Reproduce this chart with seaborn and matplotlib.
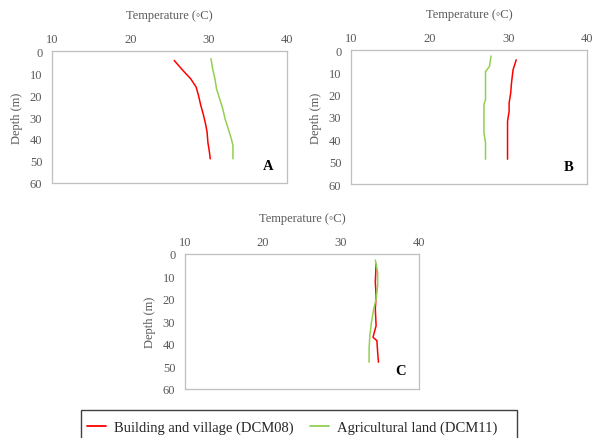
import matplotlib
matplotlib.use("Agg")
import matplotlib.pyplot as plt
from matplotlib.lines import Line2D
from matplotlib.patches import Rectangle
import pandas as pd
import seaborn as sns

# Temperature profiles (°C) against depth (m) for three boreholes
a_build_depth = [4.3, 8.8, 12.6, 16.4, 20.2, 24.8, 28.6, 33.1, 36.9, 41.5, 46.0, 49.0]
a_build_temp = [25.6, 26.7, 27.7, 28.4, 28.7, 29.0, 29.3, 29.6, 29.8, 29.9, 30.1, 30.2]
a_agri_depth = [3.5, 8.0, 12.6, 17.2, 21.7, 26.3, 30.9, 35.4, 40.0, 43.0, 49.0]
a_agri_temp = [30.3, 30.5, 30.8, 31.0, 31.4, 31.8, 32.1, 32.5, 32.9, 33.1, 33.1]

b_build_depth = [4.4, 8.9, 14.8, 19.3, 23.7, 27.4, 31.9, 40.0, 48.9]
b_build_temp = [31.0, 30.6, 30.4, 30.3, 30.1, 30.1, 29.9, 29.9, 29.9]
b_agri_depth = [2.7, 7.4, 9.6, 16.3, 22.2, 24.4, 31.1, 37.0, 41.5, 48.9]
b_agri_temp = [27.8, 27.6, 27.1, 27.1, 27.1, 26.9, 26.9, 26.9, 27.1, 27.1]

c_build_depth = [4.4, 12.6, 18.5, 24.4, 31.9, 37.0, 38.5, 43.7, 48.1]
c_build_temp = [34.5, 34.4, 34.5, 34.4, 34.5, 34.1, 34.6, 34.7, 34.8]
c_agri_depth = [2.7, 8.1, 14.1, 20.0, 24.4, 30.4, 36.3, 42.2, 48.1]
c_agri_temp = [34.4, 34.7, 34.7, 34.5, 34.2, 33.9, 33.7, 33.6, 33.6]

series_names = ["Building and village (DCM08)", "Agricultural land (DCM11)"]
series_colors = ["#FF0000", "#92D050"]
panel_letters = ["A", "B", "C"]
x_ticks = [10, 20, 30, 40]
y_ticks = [0, 10, 20, 30, 40, 50, 60]

sns.set_theme(style="white")
plt.rcParams["font.family"] = ["Liberation Serif", "DejaVu Serif"]

panels = [
    (a_build_depth, a_build_temp, a_agri_depth, a_agri_temp),
    (b_build_depth, b_build_temp, b_agri_depth, b_agri_temp),
    (c_build_depth, c_build_temp, c_agri_depth, c_agri_temp),
]

W, H = 593, 439
fig = plt.figure(figsize=(W / 100, H / 100), dpi=100)

# axes boxes in pixels: left, top, right, bottom
boxes = [(52, 52, 287, 184), (351, 51, 587, 185), (185, 255, 419, 390)]

grey = "#595959"
fs = 9.0

for (bd, bt, ad, at), (l, t, r, b), letter in zip(panels, boxes, panel_letters):
    ax = fig.add_axes([l / W, 1 - b / H, (r - l) / W, (b - t) / H])
    df = pd.concat([
        pd.DataFrame({"Depth": bd, "Temp": bt, "Site": series_names[0]}),
        pd.DataFrame({"Depth": ad, "Temp": at, "Site": series_names[1]}),
    ])
    sns.lineplot(data=df, x="Temp", y="Depth", hue="Site", hue_order=series_names,
                 palette=series_colors, sort=False, estimator=None, units="Site",
                 linewidth=1.1, legend=False, ax=ax)
    ax.set_xlim(10, 40)
    ax.set_ylim(60, 0)
    ax.set_xticks(x_ticks)
    ax.set_yticks(y_ticks)
    ax.xaxis.tick_top()
    ax.xaxis.set_label_position("top")
    ax.set_xlabel("Temperature (\u25e6C)", fontsize=fs, color=grey, labelpad=11)
    ax.set_ylabel("Depth (m)", fontsize=fs, color=grey, labelpad=5)
    ax.tick_params(axis="x", length=0, pad=4, labelsize=fs, labelcolor=grey)
    ax.tick_params(axis="y", length=0, pad=7, labelsize=fs, labelcolor=grey)
    for s in ax.spines.values():
        s.set_color("#BFBFBF")
        s.set_linewidth(0.9)
    ax.text(37.6, 52.0, letter, fontsize=10.5, fontweight="bold", ha="center", va="center",
            color="black")

# legend box along the bottom edge
fig.patches.append(Rectangle((81 / W, 1 - 445 / H), 436 / W, 34 / H,
                             transform=fig.transFigure, fill=False,
                             edgecolor="#404040", linewidth=1.0))
handles = [Line2D([], [], color=c, lw=1.3) for c in series_colors]
fig.legend(handles, series_names, loc="upper left",
           bbox_to_anchor=(87 / W, 1 - 422 / H), ncol=2, frameon=False,
           fontsize=10.5, handlelength=1.3, handletextpad=0.55, columnspacing=1.15,
           borderpad=0, borderaxespad=0)

fig.savefig("out.png", dpi=100)
